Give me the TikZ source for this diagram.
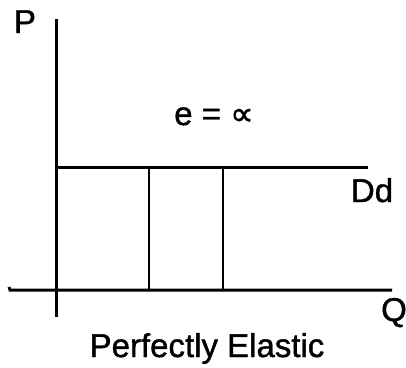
\documentclass[tikz,border=0pt]{standalone}
\usepackage{fontspec}
\newfontfamily\lblfont{Liberation Sans}[FakeBold=1.2]
\newfontfamily\dejavu{DejaVu Sans}[FakeBold=1.2]
\begin{document}
\begin{tikzpicture}[x=1pt,y=-1pt,
  axis/.style={line width=3pt},
  demand/.style={line width=3pt},
  guide/.style={line width=1.4pt},
  lbl/.style={anchor=base,inner sep=0pt,font=\lblfont\fontsize{33}{35}\selectfont}]
\useasboundingbox (0,0) rectangle (406,367);
% axes
\coordinate (ytop) at (56,19);
\coordinate (ybot) at (56,317);
\coordinate (xl) at (10,290);
\coordinate (xr) at (392,290);
\draw[axis] (ytop) -- (ybot);
\draw[axis] (9,287) -- (xl) -- (xr);
% demand line
\coordinate (d1) at (56,167);
\coordinate (d2) at (368,167);
\draw[demand] (d1) -- (d2);
% guide lines
\coordinate (g1t) at (149,167);
\coordinate (g1b) at (149,290);
\coordinate (g2t) at (223,167);
\coordinate (g2b) at (223,290);
\draw[guide] (g1t) -- (g1b);
\draw[guide] (g2t) -- (g2b);
% labels
\node[lbl] (P) at (25,33) {P};
\node[lbl] (e) at (214,125) {e = {\dejavu ∝}};
\node[lbl] (Dd) at (372,202) {Dd};
\node[lbl] (Q) at (394,321) {Q};
\node[lbl] (title) at (207,357) {Perfectly Elastic};
\end{tikzpicture}
\end{document}
